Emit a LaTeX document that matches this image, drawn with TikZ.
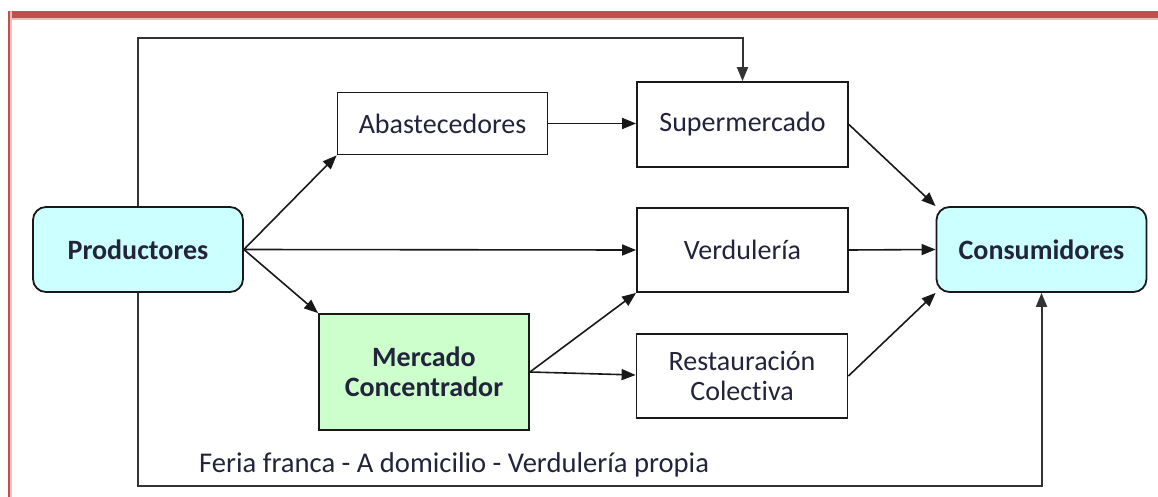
\documentclass[tikz,border=0pt]{standalone}
\usepackage{fontspec}
\setmainfont[Ligatures=NoCommon]{Carlito}
\usetikzlibrary{arrows.meta}
\definecolor{redbar}{RGB}{192,80,77}
\definecolor{pinkbar}{RGB}{240,190,190}
\definecolor{cyanfill}{RGB}{204,255,255}
\definecolor{greenfill}{RGB}{204,255,204}
\definecolor{txt}{RGB}{35,35,60}
\definecolor{edge}{RGB}{25,25,25}
\tikzset{
  box/.style={draw=edge, line width=1.8pt, fill=white, minimum width=210pt, inner sep=0pt,
    font=\fontsize{28}{30}\selectfont, text=txt, align=center},
  endbox/.style={box, rounded corners=13pt, fill=cyanfill, minimum height=85pt, font=\fontsize{28}{30}\selectfont\bfseries},
  arr/.style={draw=edge, line width=1.6pt, -{Triangle[length=14pt,width=11pt]}},
  frame/.style={line width=2pt, -{Triangle[length=14pt,width=11pt]}, color=black!80}
}
\begin{document}
\begin{tikzpicture}[x=1pt,y=-1pt]
\useasboundingbox (0,0) rectangle (1158,497);
% red page border
\fill[pinkbar] (8,11) rectangle (1158,20);
\fill[redbar] (8,11) rectangle (1158,18);
\fill[pinkbar] (8,11) rectangle (12,497);
\fill[redbar] (8,11) rectangle (10,497);

\node[endbox] (prod) at (138,249.5) {Productores};
\node[endbox] (cons) at (1041.5,249.5) {Consumidores};
\node[box, minimum height=62pt] (abas) at (442.5,123.5) {Abastecedores};
\node[box, minimum height=85pt, minimum width=211pt] (super) at (742.5,124.5) {Supermercado};
\node[box, minimum height=84pt, minimum width=211pt] (verd) at (742.5,250) {Verdulería};
\node[box, minimum height=84pt, minimum width=211pt] (rest) at (742,376) {Restauración\\Colectiva};
\node[box, fill=greenfill, minimum height=116pt, font=\fontsize{28}{30}\selectfont\bfseries] (merc) at (424,372) {Mercado\\Concentrador};

\coordinate (tl) at (138,38);
\coordinate (bl) at (138,486);

\draw[arr] (prod.east) -- (abas.south west);
\draw[arr] (prod.east) -- (verd.west);
\draw[arr] (prod.east) -- (merc.north west);
\draw[arr] (abas.east) -- (super.west |- abas.east);
\draw[arr] (super.east) -- (cons.north west);
\draw[arr] (verd.east) -- (cons.west);
\draw[arr] (rest.east) -- (cons.south west);
\draw[arr] (merc.east) -- (verd.south west);
\draw[arr] (merc.east) -- ([yshift=1pt]rest.west);

\draw[frame] (prod.north) -- (prod.north |- tl) -| (super.north);
\draw[frame] (prod.south) -- (prod.south |- bl) -| (cons.south);

\node[anchor=base west, inner sep=0pt, font=\fontsize{28.6}{30}\selectfont, text=txt] (feria) at (199,472) {Feria franca - A domicilio - Verdulería propia};
\end{tikzpicture}
\end{document}
